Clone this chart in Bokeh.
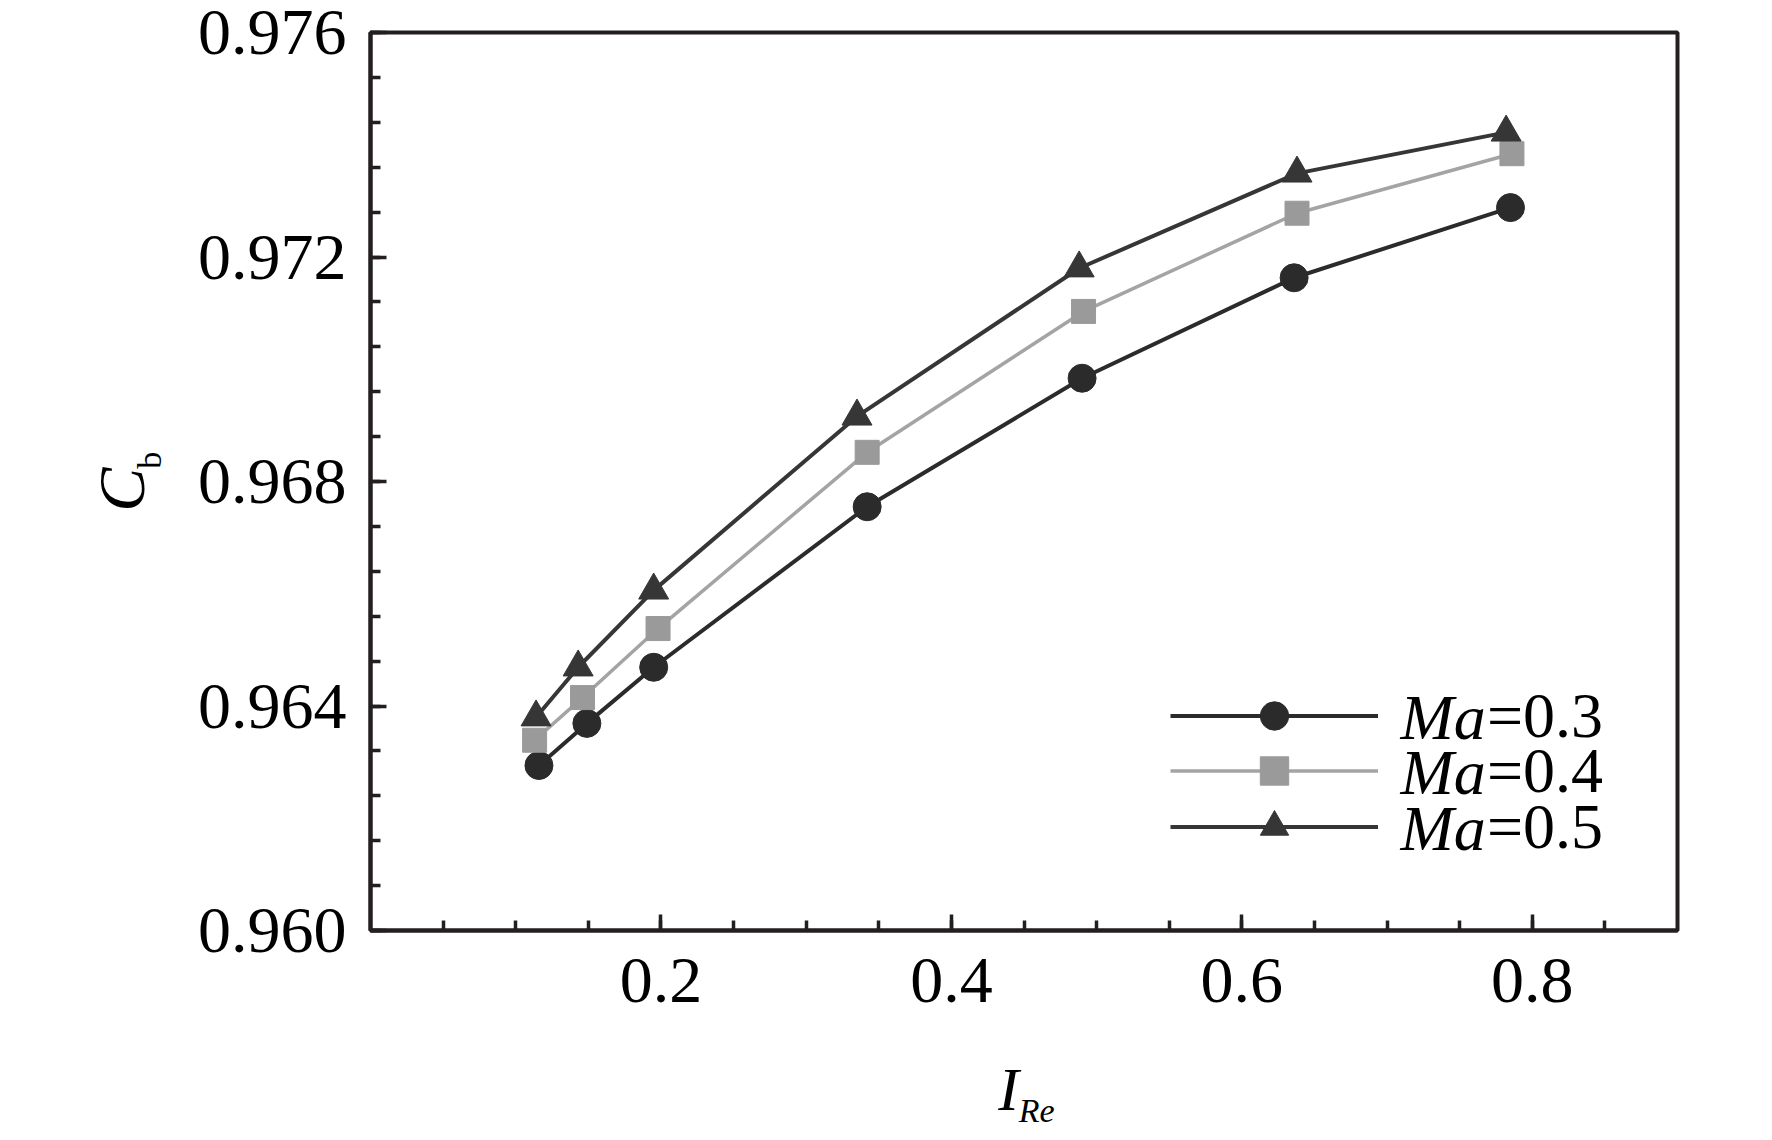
import math
from bokeh.plotting import figure
from bokeh.models import (Legend, LegendItem, Label, FixedTicker, PrintfTickFormatter,
                          Range1d, LinearAxis)
from bokeh.embed import file_html
from bokeh.resources import INLINE

# ---- data ----
x_ma03 = [0.116, 0.149, 0.195, 0.342, 0.490, 0.636, 0.785]
y_ma03 = [0.96294, 0.96369, 0.96469, 0.96755, 0.96984, 0.97163, 0.97288]

x_ma04 = [0.113, 0.146, 0.198, 0.342, 0.491, 0.638, 0.786]
y_ma04 = [0.96339, 0.96415, 0.96538, 0.96852, 0.97103, 0.97278, 0.97384]

x_ma05 = [0.114, 0.143, 0.195, 0.335, 0.488, 0.638, 0.782]
y_ma05 = [0.96380, 0.96469, 0.96606, 0.96916, 0.97180, 0.97349, 0.97422]

series_labels = ["=0.3", "=0.4", "=0.5"]
x_major = [0.2, 0.4, 0.6, 0.8]
x_minor = [0.05 * i for i in range(1, 18)]
y_major = [0.960, 0.964, 0.968, 0.972, 0.976]
y_minor = [0.960 + 0.0008 * i for i in range(0, 21)]

FONT = "Liberation Serif"
AXC = "#231f20"
NB = "\u00a0"

W, H = 1768, 1136
p = figure(width=W, height=H, output_backend="svg", toolbar_location=None,
           x_range=Range1d(0, 0.9), y_range=Range1d(0.960, 0.976),
           min_border_left=370, min_border_right=W - 1677, min_border_top=32,
           min_border_bottom=H - 930, title=None)
p.grid.visible = False
p.background_fill_color = "white"
p.border_fill_color = "white"
p.outline_line_color = AXC
p.outline_line_width = 4

for ax in (p.xaxis[0], p.yaxis[0]):
    ax.axis_line_color = AXC
    ax.axis_line_width = 4
    ax.major_tick_line_color = AXC
    ax.minor_tick_line_color = AXC
    ax.major_tick_line_width = 3.5
    ax.minor_tick_line_width = 3.5
    ax.major_tick_in = 16
    ax.major_tick_out = 0
    ax.minor_tick_in = 10
    ax.minor_tick_out = 0
    ax.major_label_text_font = FONT
    ax.major_label_text_font_size = "66px"
    ax.major_label_text_color = "black"

p.xaxis[0].ticker = FixedTicker(ticks=x_major, minor_ticks=x_minor)
p.xaxis[0].formatter = PrintfTickFormatter(format="%.1f")
p.xaxis[0].major_label_standoff = 28
p.yaxis[0].ticker = FixedTicker(ticks=y_major, minor_ticks=y_minor)
p.yaxis[0].formatter = PrintfTickFormatter(format="%.3f")
p.yaxis[0].major_label_standoff = 24


def title_axis(text, size, style, standoff):
    a = LinearAxis(ticker=FixedTicker(ticks=[]), axis_label=text,
                   axis_line_alpha=0, major_tick_in=0, major_tick_out=0,
                   minor_tick_in=0, minor_tick_out=0, major_label_standoff=0,
                   major_label_text_font_size="0px",
                   axis_label_standoff=standoff, axis_label_text_font=FONT,
                   axis_label_text_font_size=size, axis_label_text_font_style=style,
                   axis_label_text_color="black")
    return a


# y title: C with subscript b (b nearer the axis); no-break spaces shift along the axis
p.add_layout(title_axis(NB * 5 + "b", "34px", "normal", 27), "left")
p.add_layout(title_axis("C" + NB, "66px", "italic", -30), "left")
# x title: I with subscript Re
p.add_layout(title_axis("I" + NB * 2, "62px", "italic", 50), "below")
p.add_layout(title_axis(NB * 3 + "Re", "34px", "italic", -34), "below")

c03, c04, c05 = "#2b2b2b", "#9a9a9a", "#363636"
l03 = p.line(x_ma03, y_ma03, line_color=c03, line_width=4)
l04 = p.line(x_ma04, y_ma04, line_color="#a4a4a4", line_width=3.5)
l05 = p.line(x_ma05, y_ma05, line_color=c05, line_width=4)
m03 = p.scatter(x_ma03, y_ma03, marker="circle", size=28, fill_color=c03, line_color=c03)
m04 = p.scatter(x_ma04, y_ma04, marker="square", size=24, fill_color=c04, line_color=c04)
m05 = p.scatter(x_ma05, y_ma05, marker="triangle", size=30, fill_color=c05, line_color=c05)

# legend: one Legend per row for exact spacing
row_centers = [213, 158, 102]   # px above frame bottom
rows = [(l03, m03), (l04, m04), (l05, m05)]
for (ln, mk), lab, cy in zip(rows, series_labels, row_centers):
    lg = Legend(items=[LegendItem(label=lab, renderers=[ln, mk])],
                location=(800, cy - 35.5), padding=0, margin=0, spacing=0,
                glyph_width=208, glyph_height=71, label_height=71,
                label_standoff=109, background_fill_alpha=0, border_line_alpha=0,
                label_text_font=FONT, label_text_font_size="64px", label_text_color="black")
    p.add_layout(lg, "center")
    p.add_layout(Label(x=1030, y=cy, x_units="screen", y_units="screen", text="Ma",
                       text_font=FONT, text_font_style="italic", text_font_size="64px",
                       text_baseline="middle", text_align="left", text_color="black"))

open("out.html", "w").write(file_html(p, INLINE))
